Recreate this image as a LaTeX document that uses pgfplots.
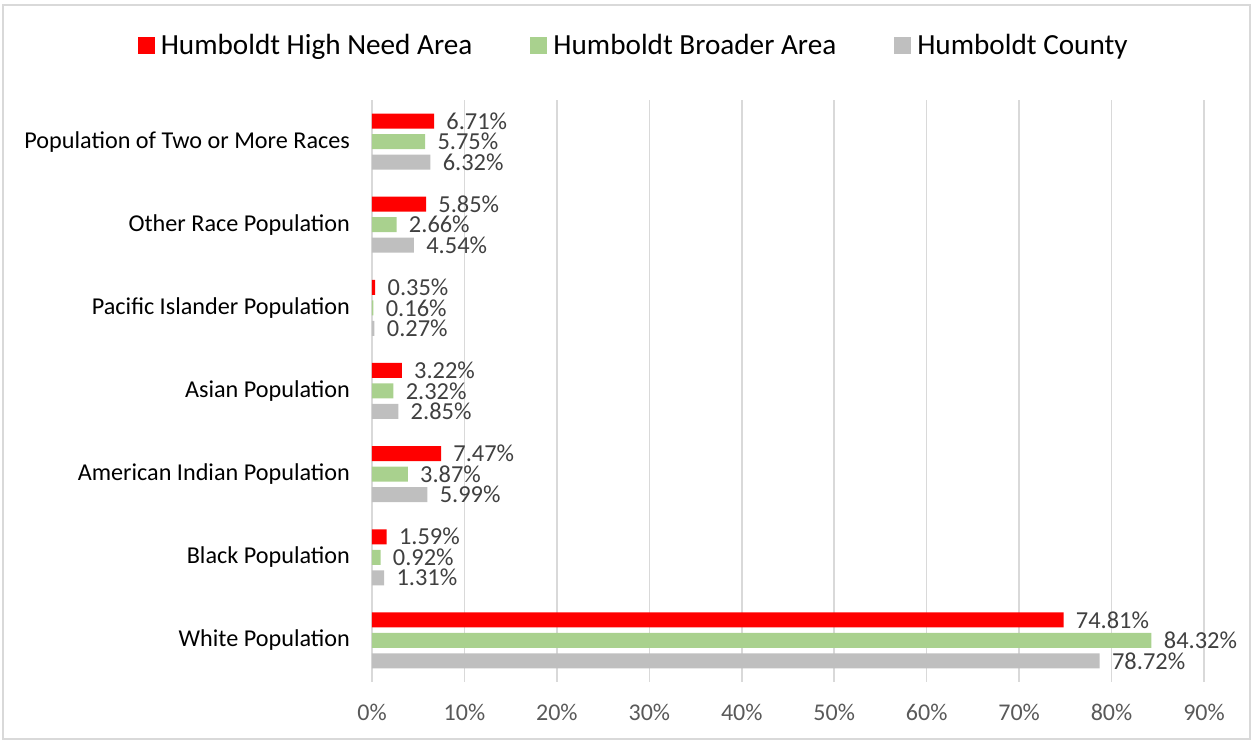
\documentclass[border=0pt]{standalone}
\usepackage{pgfplots}
\pgfplotsset{compat=1.18}
\usepackage{fontspec}
\setmainfont{Carlito}
\definecolor{cred}{HTML}{FF0000}
\definecolor{cgreen}{HTML}{A9D18E}
\definecolor{cgray}{HTML}{BFBFBF}
\definecolor{gridc}{HTML}{D9D9D9}
\definecolor{lab}{HTML}{404040}
\definecolor{tick}{HTML}{595959}
\begin{document}
\begin{tikzpicture}
\begin{axis}[
  at={(0,0)}, anchor=south west,
  scale only axis, width=416pt, height=291pt,
  xmin=0, xmax=90, ymin=-0.5, ymax=6.5,
  xbar, bar width=7.5pt,
  axis line style={draw=none},
  major tick length=0pt,
  xtick={0,10,...,90},
  xticklabels={0\%,10\%,20\%,30\%,40\%,50\%,60\%,70\%,80\%,90\%},
  xticklabel style={font=\fontsize{12}{14}\selectfont, text=tick, yshift=-7.5pt},
  ytick={0,...,6},
  yticklabels={White Population, Black Population, American Indian Population, Asian Population, Pacific Islander Population, Other Race Population, Population of Two or More Races},
  yticklabel style={font=\fontsize{12.1}{14}\selectfont, text=black, xshift=-7.5pt},
  xmajorgrids, grid style={gridc, line width=0.8pt},
  /pgf/number format/assume math mode=true,
  nodes near coords={\pgfmathprintnumber[fixed,fixed zerofill,precision=2]{\pgfplotspointmeta}\%},
  nodes near coords style={font=\fontsize{12.2}{14}\selectfont, text=lab, anchor=west, inner sep=0pt, xshift=6pt},
  legend style={at={(0.317,1.093)}, anchor=center, legend columns=-1, draw=none, fill=none,
    font=\fontsize{14.6}{16}\selectfont, /tikz/every even column/.append style={column sep=26pt},
    nodes={inner xsep=3pt}},
  legend image code/.code={\fill[#1] (0pt,-4.25pt) rectangle (8.5pt,4.25pt);},
  clip=false,
]
\addplot[fill=cred, draw=none, bar shift=10.25pt] coordinates {(74.81,0) (1.59,1) (7.47,2) (3.22,3) (0.35,4) (5.85,5) (6.71,6)};
\addplot[fill=cgreen, draw=none, bar shift=0pt] coordinates {(84.32,0) (0.92,1) (3.87,2) (2.32,3) (0.16,4) (2.66,5) (5.75,6)};
\addplot[fill=cgray, draw=none, bar shift=-10.25pt] coordinates {(78.72,0) (1.31,1) (5.99,2) (2.85,3) (0.27,4) (4.54,5) (6.32,6)};
\legend{Humboldt High Need Area, Humboldt Broader Area, Humboldt County}
\end{axis}
\draw[gridc, line width=0.7pt] (-184.5pt,-28.5pt) rectangle (439pt,338.5pt);
\useasboundingbox (-186pt,-30pt) rectangle (440.5pt,341pt);
\end{tikzpicture}
\end{document}
